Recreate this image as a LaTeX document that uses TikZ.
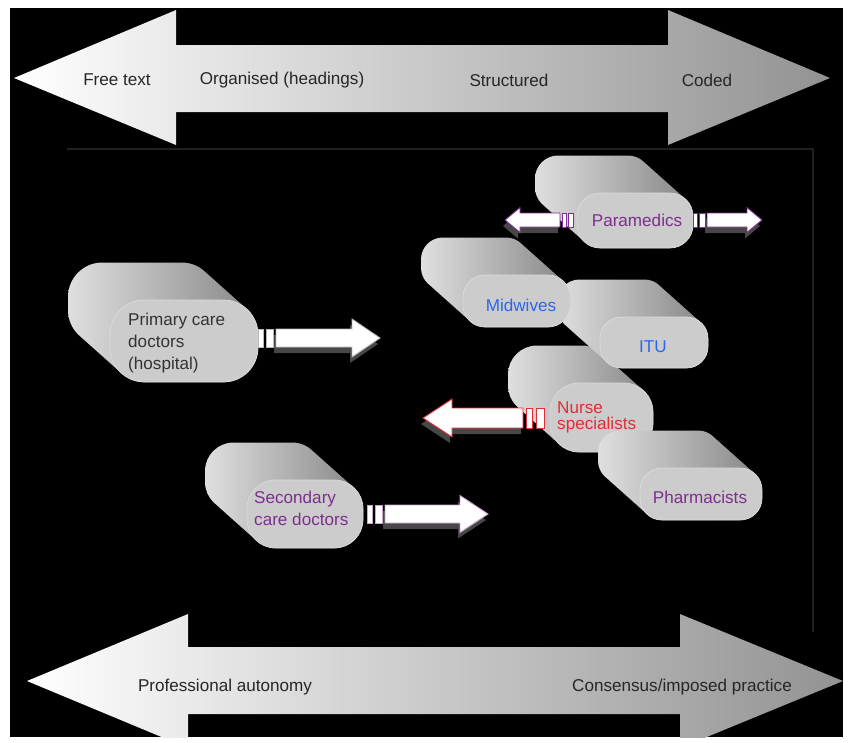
\documentclass[tikz,border=0pt]{standalone}
\usepackage{fontspec}
\setmainfont{Liberation Sans}
\definecolor{parapurple}{HTML}{7E2E8E}
\definecolor{midblue}{HTML}{2A66F0}
\definecolor{nursered}{HTML}{DD3035}
\definecolor{arrowpink}{HTML}{C9A6CF}
\tikzset{
  bandtext/.style={font=\fontsize{14.6}{18.7}\selectfont, text=black!85, inner sep=0pt},
  blocktext/.style={font=\fontsize{14.6}{18.7}\selectfont, inner sep=0pt, align=left},
  bandarrow/.style={left color=white, right color=gray!85},
  arrowshadow/.style={fill=black!72}
}
% extruded pill: x1, y1, x2, y2 of the front face
\newcommand{\careblock}[4]{%
  \pgfmathsetmacro{\rr}{0.42*(#4-#2)*0.03}
  \shade[left color=gray!25, right color=gray!95, rounded corners=\rr cm]
    foreach \k in {0,...,30} {({#1-\k*1.4},{#2-\k*1.25}) rectangle ({#3-\k*1.4},{#4-\k*1.25})};
  \fill[gray!40, draw=gray!28, line width=0.6pt, rounded corners=\rr cm] (#1,#2) rectangle (#3,#4);
}
% striped block arrow: tail, head back, tip, y, shaft half, head half, outline, stripes
\newcommand{\stripearrow}[8]{%
  \fill[arrowshadow] (#1-2,#4-#5+6) -- (#2-2,#4-#5+6) -- (#2-2,#4-#6+6) -- (#3-2,#4+6)
    -- (#2-2,#4+#6+6) -- (#2-2,#4+#5+6) -- (#1-2,#4+#5+6) -- cycle;
  \filldraw[fill=white, draw=#7, line width=0.8pt] (#1,#4-#5) -- (#2,#4-#5) -- (#2,#4-#6) -- (#3,#4)
    -- (#2,#4+#6) -- (#2,#4+#5) -- (#1,#4+#5) -- cycle;
  \foreach \a/\b in {#8}
    \filldraw[fill=white, draw=#7, line width=0.8pt] (\a,#4-#5) rectangle (\b,#4+#5);
}
\begin{document}
\begin{tikzpicture}[x=0.03cm, y=-0.03cm]
  \useasboundingbox (0,0) rectangle (848,742);
  \fill[black] (10,8) rectangle (843,737);
  \begin{scope}
    \clip (10,8) rectangle (843,737);
    % top band
    \shade[bandarrow] (14,78) -- (176,10) -- (176,45) -- (668,45) -- (668,10) -- (830,78)
      -- (668,145) -- (668,112) -- (176,112) -- (176,145) -- cycle;
    % bottom band
    \shade[bandarrow] (27,681) -- (188,614) -- (188,647) -- (680,647) -- (680,614) -- (843,681)
      -- (680,748) -- (680,714) -- (188,714) -- (188,748) -- cycle;
  \end{scope}
  \draw[gray!25!black, line width=1pt] (67,149) -- (813,149) -- (813,632);
  \node[bandtext] (free) at (117,80) {Free text};
  \node[bandtext] (organised) at (282,80) {Organised (headings)};
  \node[bandtext] (structured) at (509,80) {Structured};
  \node[bandtext] (coded) at (707,80) {Coded};
  \node[bandtext] (autonomy) at (225,687) {Professional autonomy};
  \node[bandtext] (consensus) at (682,687) {Consensus/imposed practice};

  % blocks, back to front
  \careblock{577}{193}{693}{248}
  \stripearrow{560}{520}{505}{220}{7}{12.5}{parapurple}{562/566,568/573}
  \stripearrow{707}{747}{762}{220}{7}{12.5}{parapurple}{693/697,699/705}
  \node[blocktext, text=parapurple] (paramedics) at (637,220) {Paramedics};

  \careblock{110}{300}{258}{382}
  \stripearrow{276}{352}{380}{338}{9}{19}{gray!55}{258/263,266/273}
  \node[blocktext, text=black!80, anchor=west] (primary) at (128,343) {Primary care\\doctors\\(hospital)};

  \careblock{550}{383}{653}{452}
  \stripearrow{523}{452}{423}{418}{10}{19}{nursered}{526/532,536/544}
  \node[blocktext, text=nursered, anchor=west] (nurse) at (557,417) {Nurse\\[-5pt]specialists};

  \careblock{600}{317}{708}{368}
  \node[blocktext, text=midblue] (itu) at (653,347) {ITU};

  \careblock{463}{275}{570}{327}
  \node[blocktext, text=midblue] (midwives) at (521,305) {Midwives};

  \careblock{640}{468}{762}{520}
  \node[blocktext, text=parapurple] (pharmacists) at (700,497) {Pharmacists};

  \careblock{247}{480}{363}{548}
  \stripearrow{385}{460}{488}{514}{9}{18.5}{arrowpink}{367/372,375/382}
  \node[blocktext, text=parapurple, anchor=west] (secondary) at (254,508) {Secondary\\care doctors};
\end{tikzpicture}
\end{document}
